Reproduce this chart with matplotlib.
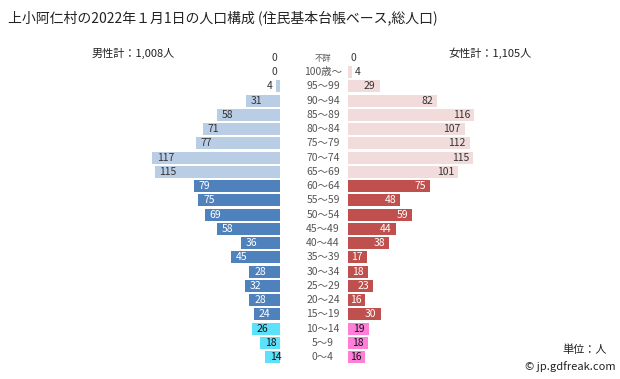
import matplotlib.pyplot as plt
from matplotlib.transforms import blended_transform_factory

plt.rcParams['font.family'] = ['Noto Sans CJK JP', 'DejaVu Sans']

ages = ['不詳', '100歳～', '95～99', '90～94', '85～89', '80～84', '75～79',
        '70～74', '65～69', '60～64', '55～59', '50～54', '45～49', '40～44',
        '35～39', '30～34', '25～29', '20～24', '15～19', '10～14', '5～9', '0～4']
male = [0, 0, 4, 31, 58, 71, 77, 117, 115, 79, 75, 69, 58, 36, 45, 28, 32, 28, 24, 26, 18, 14]
female = [0, 4, 29, 82, 116, 107, 112, 115, 101, 75, 48, 59, 44, 38, 17, 18, 23, 16, 30, 19, 18, 16]
groups = ['old'] * 9 + ['work'] * 10 + ['young'] * 3

male_colors = {'old': '#b9cde5', 'work': '#4f81bd', 'young': '#5ce1fb'}
female_colors = {'old': '#f2dcdb', 'work': '#c0504d', 'young': '#ff7fd8'}
text_colors = {'old': '#333333', 'work': 'white', 'young': '#111111'}

W, H = 620, 379
fig = plt.figure(figsize=(W / 100, H / 100), dpi=100)

n = len(ages)
row0 = 58
step = (357 - 58) / (n - 1)
top_px, bot_px = 50, 366
ylim = ((bot_px - row0) / step, (top_px - row0) / step)
scale = 1.09  # px per person
span = 160

axm = fig.add_axes([(280 - span) / W, (H - bot_px) / H, span / W, (bot_px - top_px) / H])
axf = fig.add_axes([348 / W, (H - bot_px) / H, span / W, (bot_px - top_px) / H])
axm.set_xlim(span / scale, 0)
axf.set_xlim(0, span / scale)
for ax in (axm, axf):
    ax.set_ylim(*ylim)
    ax.axis('off')

y = list(range(n))
axm.barh(y, male, height=0.84, color=[male_colors[g] for g in groups])
axf.barh(y, female, height=0.84, color=[female_colors[g] for g in groups])

for i in range(n):
    g = groups[i]
    # male labels
    if male[i] < 10:
        axm.annotate(str(male[i]), (male[i], i), xytext=(-2, 0), textcoords='offset points',
                     ha='right', va='center', fontsize=7.5, color='#333333')
    else:
        axm.annotate(str(male[i]), (male[i], i), xytext=(3.5, 0), textcoords='offset points',
                     ha='left', va='center', fontsize=7.5, color=text_colors[g])
    # female labels
    if female[i] < 10:
        axf.annotate(str(female[i]), (female[i], i), xytext=(2, 0), textcoords='offset points',
                     ha='left', va='center', fontsize=7.5, color='#333333')
    else:
        axf.annotate(str(female[i]), (female[i], i), xytext=(-3, 0), textcoords='offset points',
                     ha='right', va='center', fontsize=7.5, color=text_colors[g])

trans = blended_transform_factory(fig.transFigure, axm.transData)
for i, a in enumerate(ages):
    fs = 6 if a == '不詳' else 7.5
    fig.text(323 / W, i, a, transform=trans, ha='center', va='center', fontsize=fs, color='#555555')

fig.text(8 / W, 1 - 18 / H, '上小阿仁村の2022年１月1日の人口構成 (住民基本台帳ベース,総人口)',
         ha='left', va='center', fontsize=10, color='#222222')
fig.text(92 / W, 1 - 53 / H, '男性計：1,008人', ha='left', va='center', fontsize=8, color='#222222')
fig.text(448 / W, 1 - 53 / H, '女性計：1,105人', ha='left', va='center', fontsize=8, color='#222222')
fig.text(585 / W, 1 - 350 / H, '単位：人', ha='center', va='center', fontsize=8, color='#222222')
fig.text(570 / W, 1 - 367 / H, '© jp.gdfreak.com', ha='center', va='center', fontsize=8, color='#222222')

fig.savefig('out.png', dpi=100)
